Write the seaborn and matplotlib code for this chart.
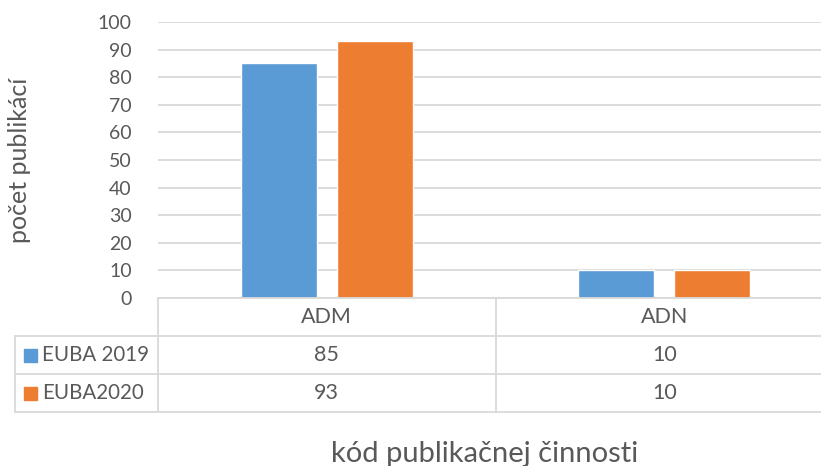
import matplotlib
matplotlib.use("Agg")
import matplotlib.pyplot as plt
import seaborn as sns
import pandas as pd
from matplotlib.patches import Rectangle

categories = ["ADM", "ADN"]
series_names = ["EUBA 2019", "EUBA2020"]
values_2019 = [85, 10]
values_2020 = [93, 10]
colors = ["#5B9BD5", "#ED7D31"]
y_ticks = [0, 10, 20, 30, 40, 50, 60, 70, 80, 90, 100]

df = pd.DataFrame({
    "kod": categories * 2,
    "seria": [series_names[0]] * 2 + [series_names[1]] * 2,
    "pocet": values_2019 + values_2020,
})

sns.set_theme(style="white")
plt.rcParams["font.family"] = ["Lato", "DejaVu Sans"]

W, H = 821, 466
fig = plt.figure(figsize=(W / 100, H / 100), dpi=100)
left_px, right_px, top_px, bottom_px = 158, 833, 22, 298
ax = fig.add_axes([left_px / W, 1 - bottom_px / H, (right_px - left_px) / W, (bottom_px - top_px) / H])

sns.barplot(data=df, x="kod", y="pocet", hue="seria", palette=colors, ax=ax,
            width=0.568, gap=0.208, legend=False, saturation=1)

grid_c = "#D9D9D9"
text_c = "#595959"
ax.set_xlim(-0.5, 1.5)
ax.set_ylim(0, 100)
ax.set_yticks(y_ticks)
ax.yaxis.grid(True, color=grid_c, linewidth=1.3)
ax.set_axisbelow(True)
for s in ax.spines.values():
    s.set_visible(False)
ax.tick_params(axis="y", length=0, pad=19, labelsize=14, labelcolor=text_c)
ax.set_xticks([])
ax.set_xlabel("")
ax.set_ylabel("počet publikácí", fontsize=18, color=text_c, labelpad=48)

# Data table below axes
ax_h = bottom_px - top_px
half_cat_px = (right_px - left_px) / 2
row_h = 38 / ax_h
tab_left = -0.5 - (left_px - 15) / half_cat_px
trans = ax.get_xaxis_transform()
lw = 1.3

def hline(x0, x1, y):
    ax.plot([x0, x1], [y, y], color=grid_c, lw=lw, transform=trans, clip_on=False)

def vline(x, y0, y1):
    ax.plot([x, x], [y0, y1], color=grid_c, lw=lw, transform=trans, clip_on=False)

hline(-0.5, 1.5, 0)
for k in (1, 2, 3):
    hline(tab_left, 1.5, -k * row_h)
vline(-0.5, 0, -3 * row_h)
vline(0.5, 0, -3 * row_h)
vline(1.5, 0, -3 * row_h)
vline(tab_left, -row_h, -3 * row_h)

for i, cat in enumerate(categories):
    ax.text(i, -0.5 * row_h, cat, transform=trans, ha="center", va="center",
            fontsize=15.5, color=text_c)

all_vals = [values_2019, values_2020]
sq_w = 13 / half_cat_px
sq_h = 13 / ax_h
for r, (name, vals, c) in enumerate(zip(series_names, all_vals, colors)):
    yc = -(r + 1.5) * row_h
    for i, v in enumerate(vals):
        ax.text(i, yc, str(v), transform=trans, ha="center", va="center",
                fontsize=15.5, color=text_c)
    x_sq = tab_left + 9 / half_cat_px
    ax.add_patch(Rectangle((x_sq, yc - sq_h / 2), sq_w, sq_h, color=c,
                           transform=trans, clip_on=False))
    ax.text(x_sq + sq_w + 5 / half_cat_px, yc, name, transform=trans,
            ha="left", va="center", fontsize=14.8, color=text_c)

fig.text(485 / W, 1 - 454 / H, "kód publikačnej činnosti", ha="center", va="center",
         fontsize=21, color=text_c)

fig.savefig("out.png", dpi=100)
